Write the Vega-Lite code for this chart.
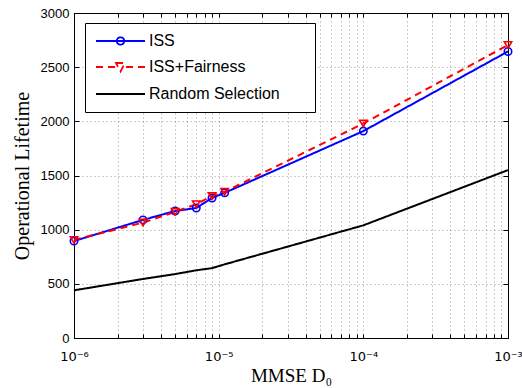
{
  "$schema": "https://vega.github.io/schema/vega-lite/v6.json",
  "width": 434,
  "height": 325,
  "autosize": "none",
  "padding": {"left": 74, "top": 13, "right": 14, "bottom": 50},
  "background": "white",
  "config": {
    "view": {"stroke": "black", "strokeWidth": 1},
    "axis": {
      "domainColor": "black",
      "tickColor": "black",
      "labelColor": "black",
      "labelFont": "Liberation Sans",
      "labelFontSize": 13,
      "titleColor": "black",
      "titleFont": "Liberation Serif",
      "titleFontSize": 19,
      "titleFontWeight": "normal",
      "gridColor": "#000000",
      "gridOpacity": 0.4,
      "gridDash": [1, 3],
      "gridWidth": 1
    }
  },
  "data": {
    "values": [
      {"x": 1e-6, "y": 895, "series": "ISS"},
      {"x": 3e-6, "y": 1090, "series": "ISS"},
      {"x": 5e-6, "y": 1172, "series": "ISS"},
      {"x": 7e-6, "y": 1200, "series": "ISS"},
      {"x": 9e-6, "y": 1292, "series": "ISS"},
      {"x": 1.1e-5, "y": 1340, "series": "ISS"},
      {"x": 1e-4, "y": 1910, "series": "ISS"},
      {"x": 1e-3, "y": 2645, "series": "ISS"},
      {"x": 1e-6, "y": 905, "series": "ISS+Fairness"},
      {"x": 3e-6, "y": 1065, "series": "ISS+Fairness"},
      {"x": 5e-6, "y": 1165, "series": "ISS+Fairness"},
      {"x": 7e-6, "y": 1235, "series": "ISS+Fairness"},
      {"x": 9e-6, "y": 1310, "series": "ISS+Fairness"},
      {"x": 1.1e-5, "y": 1350, "series": "ISS+Fairness"},
      {"x": 1e-4, "y": 1980, "series": "ISS+Fairness"},
      {"x": 1e-3, "y": 2705, "series": "ISS+Fairness"},
      {"x": 1e-6, "y": 440, "series": "Random Selection"},
      {"x": 3e-6, "y": 545, "series": "Random Selection"},
      {"x": 5e-6, "y": 590, "series": "Random Selection"},
      {"x": 7e-6, "y": 625, "series": "Random Selection"},
      {"x": 9e-6, "y": 645, "series": "Random Selection"},
      {"x": 1.1e-5, "y": 680, "series": "Random Selection"},
      {"x": 1e-4, "y": 1040, "series": "Random Selection"},
      {"x": 1e-3, "y": 1550, "series": "Random Selection"}
    ]
  },
  "resolve": {"axis": {"x": "independent", "y": "independent"}},
  "layer": [
    {
      "mark": {"type": "line", "strokeWidth": 2},
      "encoding": {
        "x": {
          "field": "x",
          "type": "quantitative",
          "scale": {"type": "log", "domain": [1e-6, 1e-3], "nice": false},
          "axis": {
            "orient": "bottom",
            "title": "MMSE D₀",
            "titlePadding": 3,
            "values": [1e-6, 2e-6, 3e-6, 4e-6, 5e-6, 6e-6, 7e-6, 8e-6, 9e-6, 1e-5, 2e-5, 3e-5, 4e-5, 5e-5, 6e-5, 7e-5, 8e-5, 9e-5, 1e-4, 2e-4, 3e-4, 4e-4, 5e-4, 6e-4, 7e-4, 8e-4, 9e-4, 1e-3],
            "labelExpr": "abs(log(datum.value)/LN10 - round(log(datum.value)/LN10)) < 1e-6 ? (round(log(datum.value)/LN10) == -6 ? '10⁻⁶' : round(log(datum.value)/LN10) == -5 ? '10⁻⁵' : round(log(datum.value)/LN10) == -4 ? '10⁻⁴' : '10⁻³') : ''",
            "labelFont": "DejaVu Sans",
            "labelFontSize": 13,
            "labelOverlap": false,
            "labelFlush": false,
            "labelPadding": 16,
            "tickSize": -4,
            "grid": true
          }
        },
        "y": {
          "field": "y",
          "type": "quantitative",
          "scale": {"domain": [0, 3000], "nice": false},
          "axis": {
            "orient": "left",
            "title": "Operational Lifetime",
            "titleFontSize": 20,
            "format": "d",
            "values": [0, 500, 1000, 1500, 2000, 2500, 3000],
            "tickSize": -5,
            "labelPadding": 10,
            "titlePadding": 8,
            "grid": true
          }
        },
        "color": {
          "field": "series",
          "type": "nominal",
          "scale": {"domain": ["ISS", "ISS+Fairness", "Random Selection"], "range": ["#0000ff", "#ff0000", "#000000"]},
          "legend": {
            "title": "MMM",
            "titleOrient": "right",
            "titleOpacity": 0,
            "titleFontSize": 10,
            "titlePadding": 0,
            "orient": "none",
            "legendX": 11,
            "legendY": 10,
            "fillColor": "white",
            "strokeColor": "black",
            "padding": 10,
            "labelFont": "Liberation Sans",
            "labelFontSize": 16,
            "labelColor": "black",
            "labelOffset": 38,
            "labelLimit": 400,
            "symbolSize": 196,
            "symbolStrokeWidth": 1.8,
            "rowPadding": 10,
            "encode": {
              "symbols": {
                "update": {
                  "shape": {"signal": "datum.value == 'ISS' ? 'M-1,0H6M3.03,0A0.53,0.53 0 1,1 1.97,0A0.53,0.53 0 1,1 3.03,0' : datum.value == 'ISS+Fairness' ? 'M-1,0H0M0.714,0H1.714M3.286,0H4.286M5,0H6M1.857,-0.57L3.143,-0.57L2.5,0.64Z' : 'M-1,0H6'"},
                  "fill": {"value": "transparent"},
                  "strokeDash": {"value": [1, 0]}
                }
              }
            }
          }
        },
        "strokeDash": {
          "field": "series",
          "type": "nominal",
          "scale": {"domain": ["ISS", "ISS+Fairness", "Random Selection"], "range": [[1, 0], [7, 5], [1, 0]]},
          "legend": null
        }
      }
    },
    {
      "transform": [{"filter": "datum.series != 'Random Selection'"}],
      "mark": {"type": "point", "filled": false, "strokeWidth": 1.6, "opacity": 1},
      "encoding": {
        "x": {
          "field": "x",
          "type": "quantitative",
          "axis": {
            "orient": "top",
            "title": null,
            "values": [1e-6, 2e-6, 3e-6, 4e-6, 5e-6, 6e-6, 7e-6, 8e-6, 9e-6, 1e-5, 2e-5, 3e-5, 4e-5, 5e-5, 6e-5, 7e-5, 8e-5, 9e-5, 1e-4, 2e-4, 3e-4, 4e-4, 5e-4, 6e-4, 7e-4, 8e-4, 9e-4, 1e-3],
            "labels": false,
            "domain": false,
            "grid": false,
            "tickSize": -4
          }
        },
        "y": {
          "field": "y",
          "type": "quantitative",
          "axis": {
            "orient": "right",
            "title": null,
            "values": [0, 500, 1000, 1500, 2000, 2500, 3000],
            "labels": false,
            "domain": false,
            "grid": false,
            "tickSize": -5
          }
        },
        "color": {"field": "series", "type": "nominal", "legend": null},
        "shape": {
          "field": "series",
          "type": "nominal",
          "scale": {"domain": ["ISS", "ISS+Fairness"], "range": ["circle", "triangle-down"]},
          "legend": null
        },
        "size": {"value": 55}
      }
    }
  ]
}
